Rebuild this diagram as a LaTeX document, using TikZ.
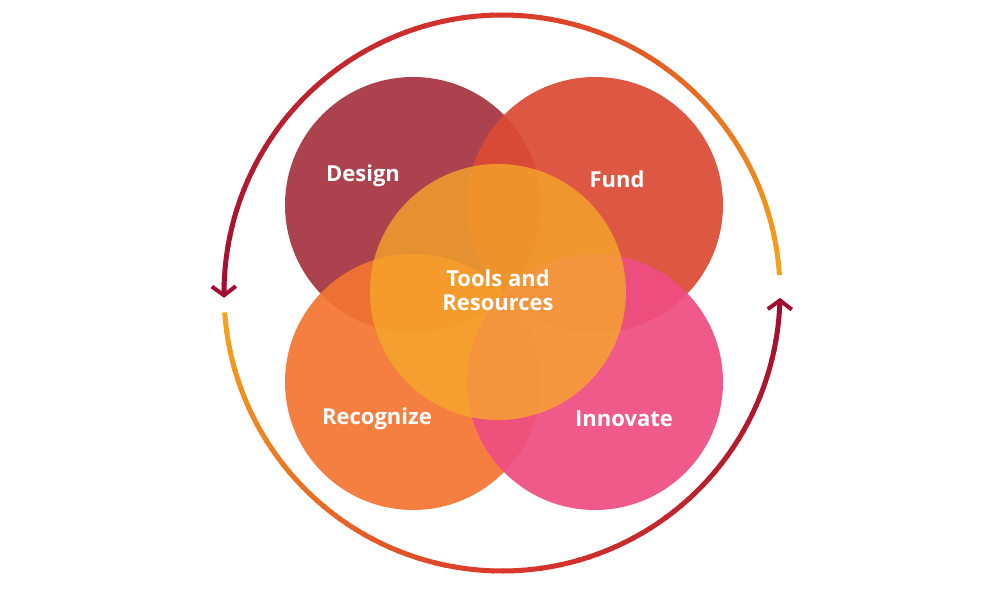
\documentclass[tikz,border=0pt]{standalone}
\usepackage{fontspec}
\setmainfont{Open Sans}
\usetikzlibrary{arrows.meta}
\definecolor{cDesign}{HTML}{A6343F}
\definecolor{cFund}{HTML}{DC4A35}
\definecolor{cRecog}{HTML}{F47533}
\definecolor{cInnov}{HTML}{EF4E82}
\definecolor{cTool}{HTML}{F6A82A}
\definecolor{rRed}{HTML}{D9362B}
\definecolor{rDark}{HTML}{A20E30}
\definecolor{rOrange}{HTML}{F7A41C}
\begin{document}
\begin{tikzpicture}[x=1pt,y=1pt,
  blob/.style={circle,minimum size=256pt,inner sep=0pt,fill opacity=0.93},
  lbl/.style={text=white,font=\bfseries\fontsize{22}{27}\selectfont,align=center},
  ring/.style={line width=5pt},
  tip/.style={-{Straight Barb[length=9pt,width=24pt,line width=4pt]}}]
\useasboundingbox (0,0) rectangle (998,-591);
\node[blob,fill=cDesign] (design) at (413,-205) {};
\node[blob,fill=cFund] (fund) at (595,-205) {};
\node[blob,fill=cRecog] (recog) at (413,-382) {};
\node[blob,fill=cInnov] (innov) at (595,-382) {};
\node[blob,fill=cTool,fill opacity=0.78] (tools) at (498,-292) {};
\node[lbl] (tdesign) at (363,-176) {Design};
\node[lbl] (tfund) at (617,-179) {Fund};
\node[lbl] (ttools) at (498,-290) {Tools and\\[-3pt]Resources};
\node[lbl] (trecog) at (377,-419) {Recognize};
\node[lbl] (tinnov) at (624,-419) {Innovate};
\coordinate (c) at (502,-293);
\foreach \a in {90,92,...,176}{
  \pgfmathsetmacro\p{100*(\a-90)/90}
  \draw[ring,color=rDark!\p!rRed] ([shift={(\a:278)}]c) arc[start angle=\a,end angle=\a+2.3,radius=278];}
\draw[ring,color=rDark,tip] ([shift={(178:278)}]c) arc[start angle=178,end angle=181,radius=278];
\foreach \a in {90,88,...,6}{
  \pgfmathsetmacro\p{100*(90-\a)/86}
  \draw[ring,color=rOrange!\p!rRed] ([shift={(\a:278)}]c) arc[start angle=\a,end angle=\a-2.3,radius=278];}
\foreach \a in {184,186,...,270}{
  \pgfmathsetmacro\p{100*(\a-184)/86}
  \draw[ring,color=rRed!\p!rOrange] ([shift={(\a:278)}]c) arc[start angle=\a,end angle=\a+2.3,radius=278];}
\foreach \a in {272,274,...,354}{
  \pgfmathsetmacro\p{100*(\a-272)/84}
  \draw[ring,color=rDark!\p!rRed] ([shift={(\a:278)}]c) arc[start angle=\a,end angle=\a+2.3,radius=278];}
\draw[ring,color=rDark,tip] ([shift={(356:278)}]c) arc[start angle=356,end angle=359,radius=278];
\end{tikzpicture}
\end{document}
